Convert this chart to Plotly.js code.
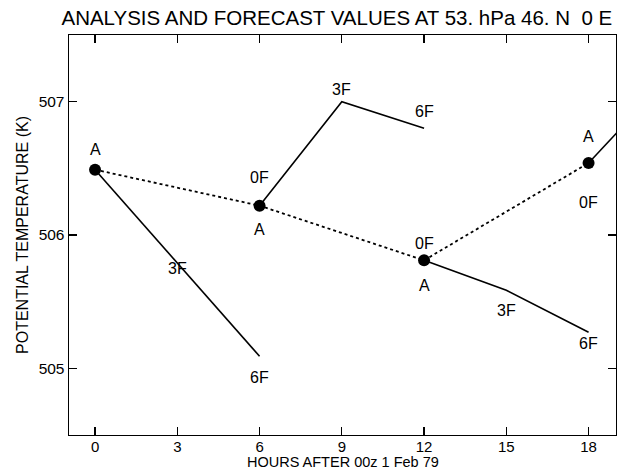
<!DOCTYPE html>
<html>
<head>
<meta charset="utf-8">
<script src="https://cdn.plot.ly/plotly-3.0.1.min.js"></script>
<style>html,body{margin:0;padding:0;background:#fff;}#chart{width:618px;height:473px;}</style>
</head>
<body>
<div id="chart"></div>
<script>
// ---- data ----
const xTicks = [0, 3, 6, 9, 12, 15, 18];
const yTicks = [505, 506, 507];

const analysisHours = [0, 6, 12, 18];
const analysisTheta = [506.49, 506.22, 505.81, 506.54];

const fc0Hours = [0, 3, 6];
const fc0Theta = [506.49, 505.79, 505.09];
const fc6Hours = [6, 9, 12];
const fc6Theta = [506.22, 507.00, 506.80];
const fc12Hours = [12, 15, 18];
const fc12Theta = [505.81, 505.585, 505.27];
const fc18Hours = [18, 21];
const fc18Theta = [506.54, 507.20];

const forecastLabels = ["0F", "3F", "6F"];
const analysisLabel = "A";
const xTitle = 'HOURS AFTER 00z 1 Feb 79';

// ---- label placement (styling only: pixel shifts) ----
const aShift = [20, -24, -25, 27];
const fcShift = {
  f0:  [null, -5, -21],
  f6:  [28, 12, 17],
  f12: [17, -20, -11],
  f18: [-39]
};

const font = 'Liberation Sans, Arial, Helvetica, sans-serif';

const solid = {color: '#000', width: 1.6};
const traces = [
  {x: analysisHours, y: analysisTheta, mode: 'lines+markers', type: 'scatter',
   line: {color: '#000', width: 1.8, dash: 'dot'},
   marker: {color: '#000', size: 12}},
  {x: fc0Hours, y: fc0Theta, mode: 'lines', type: 'scatter', line: solid},
  {x: fc6Hours, y: fc6Theta, mode: 'lines', type: 'scatter', line: solid},
  {x: fc12Hours, y: fc12Theta, mode: 'lines', type: 'scatter', line: solid},
  {x: fc18Hours, y: fc18Theta, mode: 'lines', type: 'scatter', line: solid}
];

const annotations = [];
function addLabel(x, y, text, shift) {
  annotations.push({x: x, y: y, xref: 'x', yref: 'y', text: text, showarrow: false,
    yshift: shift, font: {family: font, size: 16, color: '#000'}});
}
analysisHours.forEach((h, i) => addLabel(h, analysisTheta[i], analysisLabel, aShift[i]));
const series = [
  [fc0Hours, fc0Theta, fcShift.f0],
  [fc6Hours, fc6Theta, fcShift.f6],
  [fc12Hours, fc12Theta, fcShift.f12],
  [fc18Hours, fc18Theta, fcShift.f18]
];
series.forEach(([hs, ts, sh]) => {
  hs.forEach((h, i) => {
    if (i < sh.length && sh[i] !== null) addLabel(h, ts[i], forecastLabels[i], sh[i]);
  });
});
// x-axis title as a paper annotation, tucked just below the tick labels
annotations.push({x: 0.5, y: 0, xref: 'paper', yref: 'paper', yanchor: 'bottom', xanchor: 'center',
  yshift: -37, text: xTitle, showarrow: false, font: {family: font, size: 14.5, color: '#000'}});

const axisCommon = {
  showgrid: false, zeroline: false, showline: true, linecolor: '#000', linewidth: 1.4,
  mirror: 'ticks', ticks: 'inside', ticklen: 8, tickwidth: 1.3, tickcolor: '#000',
  tickfont: {family: font, size: 15, color: '#000'}
};

const layout = {
  width: 618, height: 473,
  margin: {l: 69, r: 2, t: 35, b: 38},
  paper_bgcolor: '#fff', plot_bgcolor: '#fff',
  showlegend: false,
  title: {text: 'ANALYSIS AND FORECAST VALUES AT 53. hPa 46. N  0 E',
          font: {family: font, size: 20.5, color: '#000'},
          x: 0.545, xanchor: 'center', y: 0.963, yanchor: 'middle'},
  xaxis: Object.assign({}, axisCommon, {
    range: [-0.95, 19.0], tickvals: xTicks, ticktext: xTicks.map(String),
    ticklabelstandoff: -2
  }),
  yaxis: Object.assign({}, axisCommon, {
    range: [504.5, 507.5], tickvals: yTicks, ticktext: yTicks.map(String),
    tickfont: {family: font, size: 15.5, color: '#000'},
    title: {text: 'POTENTIAL TEMPERATURE (K)', font: {family: font, size: 16, color: '#000'}, standoff: 6}
  }),
  annotations: annotations
};

Plotly.newPlot('chart', traces, layout, {staticPlot: true, displayModeBar: false});
</script>
</body>
</html>
